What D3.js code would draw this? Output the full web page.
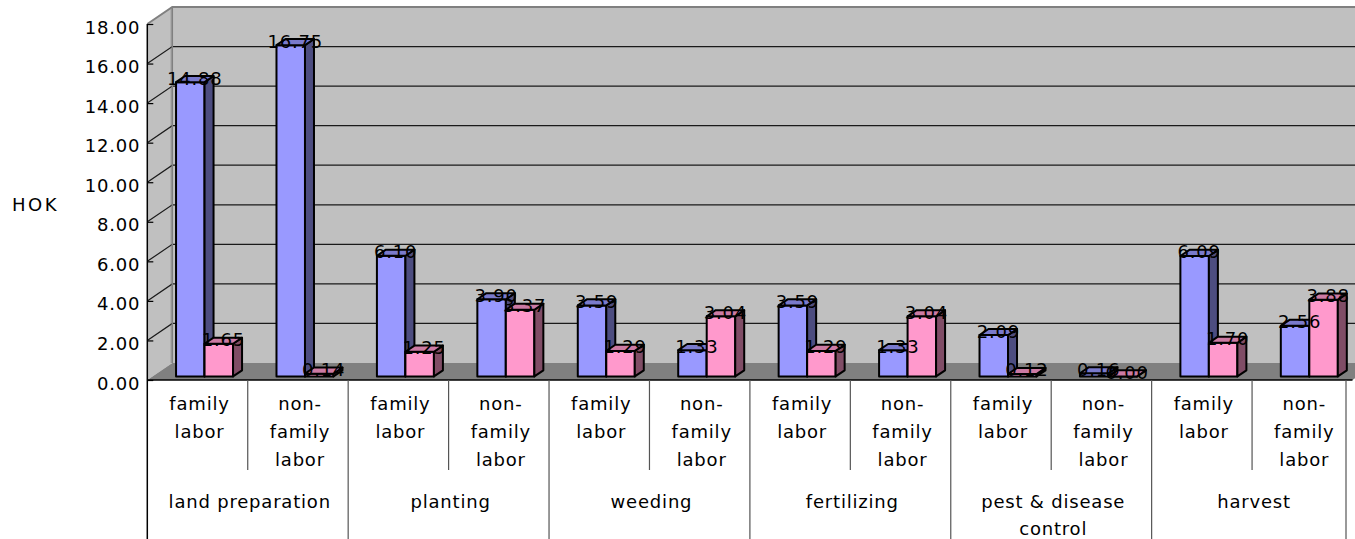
<!DOCTYPE html>
<html>
<head>
<meta charset="utf-8">
<script src="https://cdn.jsdelivr.net/npm/d3@7"></script>
<style>
  html, body { margin: 0; padding: 0; background: #fff; }
  svg { display: block; }
  text { font-family: "DejaVu Sans", sans-serif; font-size: 18px; letter-spacing: 0.8px; fill: #000; }
</style>
</head>
<body>
<svg id="chart" width="1355" height="539"></svg>
<script>
// Activities and labour groups
const categories = ["land preparation", "planting", "weeding", "fertilizing", "pest & disease control", "harvest"];
const laborLabels = [["family", "labor"], ["non-", "family", "labor"]];

// HOK per activity / labour group (two series)
const seriesBlue = [14.88, 16.75, 6.10, 3.90, 3.59, 1.33, 3.59, 1.33, 2.09, 0.16, 6.09, 2.56];
const seriesPink = [1.65, 0.14, 1.25, 3.37, 1.29, 3.04, 1.29, 3.04, 0.12, 0.00, 1.70, 3.88];

// Value axis
const yTicks = [0, 2, 4, 6, 8, 10, 12, 14, 16, 18];
const yTitle = "HOK";

const W = 1355, H = 539;
const svg = d3.select("#chart");

// front-plane geometry and depth offsets
const xStart = 147.3, xEnd = 1352.5;
const DX = 25, DY = 17;            // full depth of the floor
const zFront = 0.21, zBack = 0.57; // bar depth range (fraction of floor depth)

const y = d3.scaleLinear().domain([0, 18]).range([380, 24]);
const cols = d3.range(seriesBlue.length);
const x = d3.scaleBand().domain(cols).range([xStart, xEnd]);
const inner = d3.scaleBand().domain(["blue", "pink"]).range([23.5, 80.5]);

const proj = (px, v, z) => [px + z * DX, y(v) - z * DY];
const poly = pts => pts.map(p => p.join(",")).join(" ");

// ---- walls and floor ----
const gWalls = svg.append("g");
const yMax = 18;
// back wall
gWalls.append("polygon")
  .attr("points", poly([proj(xStart, 0, 1), proj(xEnd, 0, 1), proj(xEnd, yMax, 1), proj(xStart, yMax, 1)]))
  .attr("fill", "#c0c0c0");
// side wall
gWalls.append("polygon")
  .attr("points", poly([proj(xStart, 0, 0), proj(xStart, 0, 1), proj(xStart, yMax, 1), proj(xStart, yMax, 0)]))
  .attr("fill", "#c0c0c0");
// floor
gWalls.append("polygon")
  .attr("points", poly([proj(xStart, 0, 0), proj(xEnd, 0, 0), proj(xEnd, 0, 1), proj(xStart, 0, 1)]))
  .attr("fill", "#808080");
// corner shading of side wall
gWalls.append("line")
  .attr("x1", proj(xStart, 0, 1)[0] - 1).attr("y1", proj(xStart, 0, 1)[1])
  .attr("x2", proj(xStart, yMax, 1)[0] - 1).attr("y2", proj(xStart, yMax, 1)[1])
  .attr("stroke", "#a8a8a8").attr("stroke-width", 2);

// gridlines on back and side wall
yTicks.filter(v => v > 0).forEach(v => {
  const top = v === yMax;
  const col = top ? "#808080" : "#1a1a1a";
  const a = proj(xStart, v, 0), b = proj(xStart, v, 1), c = proj(xEnd, v, 1);
  gWalls.append("polyline")
    .attr("points", poly([a, b, c]))
    .attr("fill", "none").attr("stroke", col).attr("stroke-width", top ? 2 : 1.2);
});
// back wall left edge
gWalls.append("line")
  .attr("x1", proj(xStart, 0, 1)[0]).attr("y1", proj(xStart, 0, 1)[1])
  .attr("x2", proj(xStart, yMax, 1)[0]).attr("y2", proj(xStart, yMax, 1)[1])
  .attr("stroke", "#808080").attr("stroke-width", 1.5);

// ---- value axis ----
const axis = d3.axisLeft(y)
  .tickValues(yTicks)
  .tickFormat(d3.format(".2f"))
  .tickSizeInner(-6)
  .tickSizeOuter(0)
  .tickPadding(7);
const gAxis = svg.append("g").attr("transform", `translate(${xStart},0)`).call(axis);
gAxis.select(".domain").remove();
gAxis.selectAll(".tick line").attr("stroke", "#000").attr("stroke-width", 1.2);
gAxis.selectAll(".tick text")
  .attr("font-family", null).attr("font-size", null)
  .attr("dy", "0.5em");
svg.append("line")
  .attr("x1", xStart).attr("x2", xStart)
  .attr("y1", y(yMax)).attr("y2", H)
  .attr("stroke", "#000").attr("stroke-width", 1.5);

svg.append("text")
  .attr("x", 12).attr("y", 204)
  .attr("dominant-baseline", "central")
  .style("letter-spacing", "2.5px")
  .text(yTitle);

// ---- bars ----
const series = [
  { key: "blue", values: seriesBlue, front: "#9999ff", side: "#4d4d80", top: "#7a7acc" },
  { key: "pink", values: seriesPink, front: "#ff99cc", side: "#804d66", top: "#cc7aa3" }
];
const gBars = svg.append("g");
cols.forEach(i => {
  series.forEach(s => {
    const v = s.values[i];
    const x0 = x(i) + inner(s.key), x1 = x0 + inner.bandwidth();
    const g = gBars.append("g")
      .attr("stroke", "#000").attr("stroke-width", 2).attr("stroke-linejoin", "round");
    g.append("polygon").attr("fill", s.front)
      .attr("points", poly([proj(x0, 0, zFront), proj(x1, 0, zFront), proj(x1, v, zFront), proj(x0, v, zFront)]));
    g.append("polygon").attr("fill", s.side)
      .attr("points", poly([proj(x1, 0, zFront), proj(x1, 0, zBack), proj(x1, v, zBack), proj(x1, v, zFront)]));
    g.append("polygon").attr("fill", s.top)
      .attr("points", poly([proj(x0, v, zFront), proj(x1, v, zFront), proj(x1, v, zBack), proj(x0, v, zBack)]));
  });
});

// ---- value labels ----
const gLabels = svg.append("g");
cols.forEach(i => {
  series.forEach(s => {
    const v = s.values[i];
    const cx = x(i) + inner(s.key) + inner.bandwidth() / 2;
    const p = proj(cx, v, (zFront + zBack) / 2);
    gLabels.append("text")
      .attr("x", p[0]).attr("y", p[1] - 1)
      .attr("text-anchor", "middle")
      .attr("dominant-baseline", "central")
      .text(d3.format(".2f")(v));
  });
});

// ---- category table ----
const gTable = svg.append("g");
const tableTop = y(0);
gTable.append("line")
  .attr("x1", xStart).attr("x2", xEnd).attr("y1", tableTop).attr("y2", tableTop)
  .attr("stroke", "#000").attr("stroke-width", 1.5);

cols.forEach(i => {
  const lines = laborLabels[i % 2];
  const cx = x(i) + x.bandwidth() / 2 + 2;
  lines.forEach((t, k) => {
    gTable.append("text")
      .attr("x", cx).attr("y", 403 + k * 28)
      .attr("text-anchor", "middle").attr("dominant-baseline", "central")
      .text(t);
  });
  if (i > 0) {
    const major = i % 2 === 0;
    gTable.append("line")
      .attr("x1", x(i)).attr("x2", x(i))
      .attr("y1", tableTop).attr("y2", major ? H : 470)
      .attr("stroke", "#555").attr("stroke-width", 1.2);
  }
});
// right border of table
gTable.append("line")
  .attr("x1", xEnd - 6.5).attr("x2", xEnd - 6.5)
  .attr("y1", tableTop).attr("y2", H)
  .attr("stroke", "#555").attr("stroke-width", 1.2);

// group labels, wrapped to the group width
categories.forEach((c, gi) => {
  const left = x(gi * 2), right = x(gi * 2 + 1) + x.bandwidth();
  const cx = (left + right) / 2 + 2;
  const maxW = right - left - 20;
  const t = gTable.append("text").attr("text-anchor", "middle").attr("dominant-baseline", "central");
  const words = c.split(" ");
  let lines = [], cur = [];
  words.forEach(w => {
    const trial = cur.concat([w]).join(" ");
    t.text(trial);
    if (t.node().getComputedTextLength() > maxW && cur.length) {
      lines.push(cur.join(" "));
      cur = [w];
    } else {
      cur.push(w);
    }
  });
  lines.push(cur.join(" "));
  t.text(null);
  lines.forEach((ln, k) => {
    t.append("tspan").attr("x", cx).attr("y", 501 + k * 27).text(ln);
  });
});
</script>
</body>
</html>
